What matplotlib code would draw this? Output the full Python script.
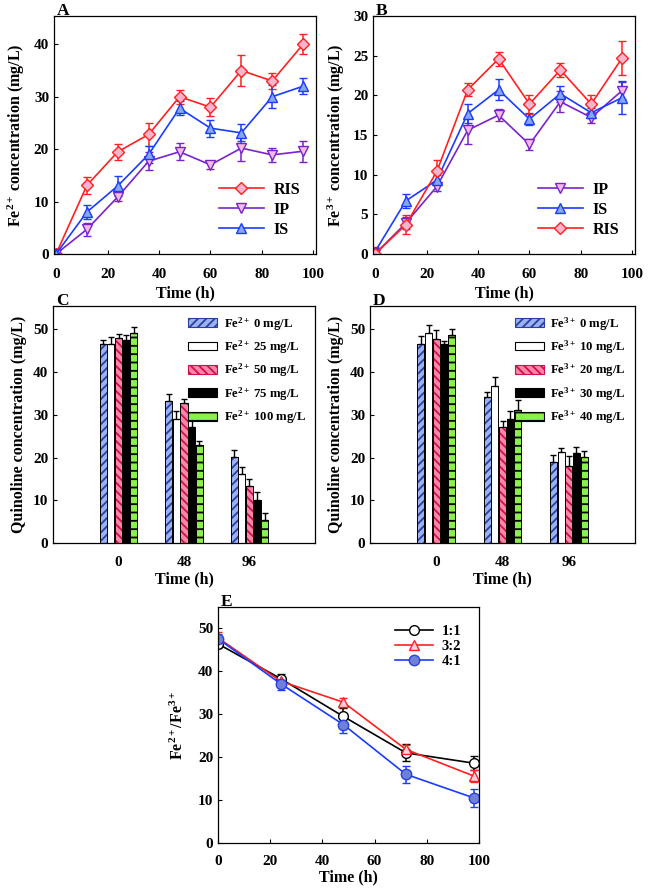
import numpy as np
import matplotlib
matplotlib.use('Agg')
import matplotlib.pyplot as plt
from matplotlib.patches import Patch
from matplotlib.lines import Line2D

plt.rcParams['font.family'] = ['Liberation Serif', 'DejaVu Serif']
plt.rcParams['font.weight'] = 'bold'
plt.rcParams['mathtext.fontset'] = 'custom'
plt.rcParams['mathtext.rm'] = 'Liberation Serif:bold'
plt.rcParams['mathtext.bf'] = 'Liberation Serif:bold'
plt.rcParams['mathtext.it'] = 'Liberation Serif:bold:italic'
plt.rcParams['mathtext.default'] = 'bf'
plt.rcParams['hatch.linewidth'] = 1.3

# ------------------------------ Data ------------------------------------------
t_ab = [0, 12, 24, 36, 48, 60, 72, 84, 96]

# A: Fe2+ concentration (mg/L)
a_ris = [0, 13.1, 19.5, 22.8, 30.0, 28.0, 35.0, 33.0, 40.0]
a_ris_err = [0.4, 1.6, 1.5, 2.2, 1.3, 1.7, 3.0, 1.5, 1.9]
a_ip = [0, 4.7, 10.9, 17.7, 19.5, 17.0, 20.2, 18.9, 19.6]
a_ip_err = [0.3, 1.3, 0.8, 1.7, 1.6, 0.8, 2.4, 1.4, 2.0]
a_is = [0, 8.0, 13.0, 19.0, 27.8, 24.0, 23.1, 30.0, 32.0]
a_is_err = [0.3, 1.3, 1.9, 1.6, 1.3, 1.6, 1.6, 2.2, 1.5]

# B: Fe3+ concentration (mg/L)
b_ip = [0, 3.9, 8.5, 15.6, 17.5, 13.8, 19.2, 17.2, 20.6]
b_ip_err = [0.3, 0.8, 0.5, 1.7, 0.8, 0.7, 1.3, 0.7, 1.1]
b_is = [0.3, 6.7, 9.3, 17.7, 20.7, 17.0, 20.2, 17.8, 19.7]
b_is_err = [0.5, 0.9, 0.6, 1.2, 1.3, 0.8, 1.0, 0.6, 2.1]
b_ris = [0, 3.7, 10.4, 20.7, 24.6, 18.9, 23.2, 18.9, 24.7]
b_ris_err = [0.9, 1.2, 1.4, 0.8, 0.9, 1.2, 0.9, 1.1, 2.2]

groups = ['0', '48', '96']

# C: quinoline with Fe2+ dosage
c_labels = ['0 mg/L', '25 mg/L', '50 mg/L', '75 mg/L', '100 mg/L']
c_vals = [[46.7, 33.2, 20.2],
          [46.7, 29.1, 16.1],
          [48.1, 32.9, 13.4],
          [47.6, 27.2, 10.0],
          [49.2, 22.9, 5.3]]
c_errs = [[0.9, 1.6, 1.6],
          [1.5, 1.9, 1.8],
          [0.8, 0.9, 1.6],
          [1.2, 1.6, 1.9],
          [1.5, 1.0, 1.8]]

# D: quinoline with Fe3+ dosage
d_labels = ['0 mg/L', '10 mg/L', '20 mg/L', '30 mg/L', '40 mg/L']
d_vals = [[46.7, 34.1, 19.0],
          [49.1, 36.7, 21.3],
          [47.7, 27.2, 18.0],
          [46.7, 29.1, 21.1],
          [48.7, 31.1, 20.2]]
d_errs = [[1.7, 1.3, 1.6],
          [1.9, 2.2, 0.9],
          [2.2, 1.4, 2.4],
          [0.6, 1.9, 1.4],
          [1.3, 2.5, 1.3]]

# E: Fe2+/Fe3+ ratio
t_e = [0, 24, 48, 72, 98]
e_11 = [46.4, 38.3, 29.5, 21.0, 18.6]
e_11_err = [1.0, 1.0, 2.0, 2.0, 1.7]
e_32 = [47.8, 37.7, 32.8, 21.8, 15.6]
e_32_err = [1.3, 1.0, 1.0, 1.0, 1.4]
e_41 = [47.6, 37.1, 27.6, 16.0, 10.5]
e_41_err = [1.0, 1.5, 2.0, 2.0, 2.0]

# ------------------------------ Styles ----------------------------------------
TICK_FS = 11
LAB_FS = 11.5
styles = {
    'RIS': dict(color='#ff2020', marker='D', mfc='#f5b5cc', mec='#ff2020', ms=6),
    'IP':  dict(color='#7a22cc', marker='v', mfc='#f2bce0', mec='#7a22cc', ms=7),
    'IS':  dict(color='#1a3cff', marker='^', mfc='#86a6ee', mec='#1a3cff', ms=7),
    '1:1': dict(color='black', marker='o', mfc='white', mec='black', ms=7),
    '3:2': dict(color='#ff2020', marker='^', mfc='#fbd0dc', mec='#ff2020', ms=7),
    '4:1': dict(color='#1a3cff', marker='o', mfc='#6e80d8', mec='#2a40e0', ms=7.5),
}
bar_styles = [
    dict(fc='#9ab2f0', hatch='////', hc='#2a3fa0'),
    dict(fc='white', hatch=None, hc=None),
    dict(fc='#ff86aa', hatch='\\\\\\\\', hc='#d0104a'),
    dict(fc='black', hatch=None, hc=None),
    dict(fc='#8af04a', hatch='--', hc='black'),
]

fig = plt.figure(figsize=(6.48, 8.88), dpi=100)
axA = fig.add_axes([0.0833, 0.714, 0.4043, 0.268])
axB = fig.add_axes([0.5756, 0.714, 0.4043, 0.268])
axC = fig.add_axes([0.0818, 0.3885, 0.4043, 0.2669])
axD = fig.add_axes([0.571, 0.3885, 0.409, 0.2669])
axE = fig.add_axes([0.3364, 0.0507, 0.4028, 0.2658])


def style_axis(ax, letter, xpad=10):
    ax.tick_params(direction='in', length=3, width=0.8, labelsize=TICK_FS,
                   top=False, right=False)
    ax.tick_params(axis='x', pad=xpad)
    for lab in ax.get_xticklabels() + ax.get_yticklabels():
        lab.set_fontweight('bold')
    for sp in ax.spines.values():
        sp.set_linewidth(0.9)
    ax.text(0.01, 1.004, letter, transform=ax.transAxes, fontsize=12.5,
            fontweight='bold', ha='left', va='baseline')


def line_series(ax, x, y, err, key):
    st = styles[key]
    ax.errorbar(x, y, yerr=err, color=st['color'], lw=1.2, elinewidth=1.1,
                capsize=3, capthick=1.1, marker=st['marker'], ms=st['ms'],
                mfc=st['mfc'], mec=st['mec'], mew=1.0)
    return Line2D([], [], color=st['color'], lw=1.2, marker=st['marker'],
                  ms=st['ms'], mfc=st['mfc'], mec=st['mec'], mew=1.0,
                  label=key)


# ------------------------------ A ---------------------------------------------
hA = [line_series(axA, t_ab, a_ris, a_ris_err, 'RIS'),
      line_series(axA, t_ab, a_ip, a_ip_err, 'IP'),
      line_series(axA, t_ab, a_is, a_is_err, 'IS')]
axA.set_xlim(-0.8, 101)
axA.set_ylim(0, 45.4)
axA.set_xticks([0, 20, 40, 60, 80, 100])
axA.set_yticks([0, 10, 20, 30, 40])
axA.set_xlabel('Time (h)', fontsize=LAB_FS, fontweight='bold', labelpad=3)
axA.set_ylabel('Fe$^{2+}$ concentration (mg/L)', fontsize=LAB_FS,
               fontweight='bold', labelpad=5)
axA.legend(handles=hA, loc='lower right', frameon=False, fontsize=11.5,
           handlelength=2.8, labelspacing=0.25, borderaxespad=0.6,
           handletextpad=0.6)
style_axis(axA, 'A')

# ------------------------------ B ---------------------------------------------
hB = [line_series(axB, t_ab, b_ip, b_ip_err, 'IP'),
      line_series(axB, t_ab, b_is, b_is_err, 'IS'),
      line_series(axB, t_ab, b_ris, b_ris_err, 'RIS')]
axB.set_xlim(-0.8, 101)
axB.set_ylim(0, 30)
axB.set_xticks([0, 20, 40, 60, 80, 100])
axB.set_yticks([0, 5, 10, 15, 20, 25, 30])
axB.set_xlabel('Time (h)', fontsize=LAB_FS, fontweight='bold', labelpad=3)
axB.set_ylabel('Fe$^{3+}$ concentration (mg/L)', fontsize=LAB_FS,
               fontweight='bold', labelpad=4)
axB.legend(handles=hB, loc='lower right', frameon=False, fontsize=11.5,
           handlelength=2.8, labelspacing=0.25, borderaxespad=0.6,
           handletextpad=0.6)
style_axis(axB, 'B')


# ------------------------------ C / D -----------------------------------------
def bar_panel(ax, vals, errs, labels, ion, letter):
    pos = np.arange(len(groups))
    width = 0.108
    step = 0.116
    handles = []
    for k, (v, e, st) in enumerate(zip(vals, errs, bar_styles)):
        xk = pos + (k - 2) * step
        ax.bar(xk, v, width=width, color=st['fc'], edgecolor='black', lw=0.7,
               yerr=[np.zeros(len(e)), e], capsize=2.5,
               error_kw=dict(elinewidth=1.0, capthick=1.0, ecolor='black'),
               zorder=2)
        if st['hatch']:
            ax.bar(xk, v, width=width, fill=False, hatch=st['hatch'],
                   edgecolor=st['hc'], lw=0, zorder=3)
            ax.bar(xk, v, width=width, fill=False, edgecolor='black', lw=0.7,
                   zorder=4)
        handles.append(Patch(facecolor=st['fc'], edgecolor=st['hc'] or 'black',
                             hatch=st['hatch'], lw=0.8,
                             label=ion + ' ' + labels[k]))
    ax.set_xlim(-1, 3)
    ax.set_ylim(0, 55.5)
    ax.set_xticks(pos)
    ax.set_xticklabels(groups)
    ax.set_yticks([0, 10, 20, 30, 40, 50])
    ax.set_xlabel('Time (h)', fontsize=LAB_FS, fontweight='bold', labelpad=2)
    ax.set_ylabel('Quinoline concentration (mg/L)', fontsize=LAB_FS,
                  fontweight='bold', labelpad=4)
    ax.legend(handles=handles, loc='upper right', frameon=False, fontsize=9.2,
              handlelength=2.3, handleheight=0.7, labelspacing=0.45,
              borderaxespad=0.3, handletextpad=0.5)
    style_axis(ax, letter, xpad=9)
    ax.tick_params(axis='x', length=0)


bar_panel(axC, c_vals, c_errs, c_labels, 'Fe$^{2+}$', 'C')
bar_panel(axD, d_vals, d_errs, d_labels, 'Fe$^{3+}$', 'D')

# ------------------------------ E ---------------------------------------------
hE = [line_series(axE, t_e, e_11, e_11_err, '1:1'),
      line_series(axE, t_e, e_32, e_32_err, '3:2'),
      line_series(axE, t_e, e_41, e_41_err, '4:1')]
axE.set_xlim(0, 100)
axE.set_ylim(0, 55)
axE.set_xticks([0, 20, 40, 60, 80, 100])
axE.set_yticks([0, 10, 20, 30, 40, 50])
axE.set_xlabel('Time (h)', fontsize=LAB_FS, fontweight='bold', labelpad=1)
axE.set_ylabel('Fe$^{2+}$/Fe$^{3+}$', fontsize=LAB_FS, fontweight='bold',
               labelpad=8)
axE.legend(handles=hE, loc='upper right', frameon=False, fontsize=10.5,
           handlelength=2.6, labelspacing=0.15, borderaxespad=0.8,
           handletextpad=0.6)
style_axis(axE, 'E', xpad=9)

fig.savefig('out.png', dpi=100)
